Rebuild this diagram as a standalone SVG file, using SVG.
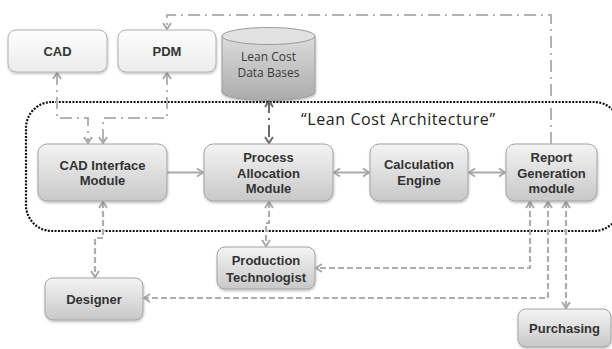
<svg xmlns="http://www.w3.org/2000/svg" width="612" height="349" viewBox="0 0 612 349">
  <defs>
    <linearGradient id="gMod" x1="0" y1="0" x2="0" y2="1">
      <stop offset="0" stop-color="#f4f4f4"/>
      <stop offset="1" stop-color="#c8c8c8"/>
    </linearGradient>
    <linearGradient id="gLight" x1="0" y1="0" x2="0" y2="1">
      <stop offset="0" stop-color="#fdfdfd"/>
      <stop offset="1" stop-color="#ececec"/>
    </linearGradient>
    <linearGradient id="gCyl" x1="0" y1="0" x2="0" y2="1">
      <stop offset="0" stop-color="#dcdcdc"/>
      <stop offset="1" stop-color="#ababab"/>
    </linearGradient>
    <filter id="shadow" x="-10%" y="-10%" width="130%" height="140%">
      <feDropShadow dx="0.5" dy="1.5" stdDeviation="1.2" flood-color="#000" flood-opacity="0.25"/>
    </filter>
    <marker id="arrL" viewBox="0 0 10 10" refX="9" refY="5" markerWidth="10" markerHeight="10" markerUnits="userSpaceOnUse" orient="auto-start-reverse">
      <path d="M3,1 L9,5 L3,9" fill="none" stroke="#a9a9a9" stroke-width="2"/>
    </marker>
    <marker id="arrD" viewBox="0 0 10 10" refX="9" refY="5" markerWidth="10" markerHeight="10" markerUnits="userSpaceOnUse" orient="auto-start-reverse">
      <path d="M3,1 L9,5 L3,9" fill="none" stroke="#6a6a6a" stroke-width="2"/>
    </marker>
  </defs>
  <style>
    .box { fill: url(#gMod); stroke: #a3a3a3; stroke-width: 1; filter: url(#shadow); }
    .lbox { fill: url(#gLight); stroke: #b0b0b0; stroke-width: 1; filter: url(#shadow); }
    .lbl { font-family: "Liberation Sans", Arial, sans-serif; font-weight: bold; font-size: 13px; fill: #333333; text-anchor: middle; }
    .soft { font-family: "Open Sans", "Noto Sans", sans-serif; font-size: 12px; fill: #3a3a3a; text-anchor: middle; }
    .solid { fill: none; stroke: #a9a9a9; stroke-width: 2; }
    .dash { fill: none; stroke: #aeaeae; stroke-width: 2.2; stroke-dasharray: 6 3; }
    .dashdot { fill: none; stroke: #b3b3b3; stroke-width: 2; stroke-dasharray: 12 5 2 5; }
    .dashdotD { fill: none; stroke: #6a6a6a; stroke-width: 2; stroke-dasharray: 12 5 2 5; }
  </style>

  <rect width="612" height="349" fill="#ffffff"/>

  <!-- system boundary -->
  <g id="boundary">
    <rect x="26" y="102" width="594" height="129" rx="26" fill="none" stroke="#111111" stroke-width="2.2" stroke-dasharray="2 1.4"/>
    <text x="398" y="125" font-family="'Open Sans', 'Noto Sans', sans-serif" font-size="16" fill="#222222" text-anchor="middle" textLength="194" lengthAdjust="spacing">“Lean Cost Architecture”</text>
  </g>

  <!-- connectors -->
  <g id="connectors">
    <path class="dashdot" d="M551,144 V15 H167 V29" marker-end="url(#arrL)"/>
    <path class="dashdot" d="M57,73 V118 H88 V143" marker-start="url(#arrL)" marker-end="url(#arrL)"/>
    <path class="dashdot" d="M167,73 V118 H103 V143" marker-start="url(#arrL)" marker-end="url(#arrL)"/>
    <path class="dashdotD" d="M269,101 V143" marker-start="url(#arrD)" marker-end="url(#arrD)"/>
    <path class="solid" d="M167,172.5 H203" marker-end="url(#arrL)"/>
    <path class="solid" d="M334,172.5 H369" marker-start="url(#arrL)" marker-end="url(#arrL)"/>
    <path class="solid" d="M469,172.5 H505" marker-start="url(#arrL)" marker-end="url(#arrL)"/>
    <path class="dash" d="M103,202 V238 H95 V277" marker-start="url(#arrL)" marker-end="url(#arrL)"/>
    <path class="dash" d="M269,202 V223 H266 V246" marker-start="url(#arrL)" marker-end="url(#arrL)"/>
    <path class="dash" d="M530,202 V268 H316" marker-start="url(#arrL)" marker-end="url(#arrL)"/>
    <path class="dash" d="M548,202 V298 H144" marker-start="url(#arrL)" marker-end="url(#arrL)"/>
    <path class="dash" d="M566,202 V308" marker-start="url(#arrL)" marker-end="url(#arrL)"/>
  </g>

  <g id="cad">
    <rect class="lbox" x="8" y="30" width="99" height="42" rx="8"/>
    <text class="lbl" x="57.5" y="56">CAD</text>
  </g>
  <g id="pdm">
    <rect class="lbox" x="118" y="30" width="98" height="42" rx="8"/>
    <text class="lbl" x="167" y="56">PDM</text>
  </g>
  <g id="lean-cost-db">
    <path d="M222,36 V92 A46.5,8.5 0 0 0 315,92 V36" fill="url(#gCyl)" stroke="#9a9a9a" stroke-width="1" filter="url(#shadow)"/>
    <ellipse cx="268.5" cy="36" rx="46.5" ry="8.5" fill="#e2e2e2" stroke="#9a9a9a" stroke-width="1"/>
    <text class="soft" x="268.5" y="61">Lean Cost</text>
    <text class="soft" x="268.5" y="77">Data Bases</text>
  </g>
  <g id="cad-interface-module">
    <rect class="box" x="38" y="144" width="129" height="57" rx="9"/>
    <text class="lbl" x="102.5" y="170">CAD Interface</text>
    <text class="lbl" x="102.5" y="185">Module</text>
  </g>
  <g id="process-allocation-module">
    <rect class="box" x="204" y="144" width="129" height="57" rx="9"/>
    <text class="lbl" x="268.5" y="162">Process</text>
    <text class="lbl" x="268.5" y="177.5">Allocation</text>
    <text class="lbl" x="268.5" y="193">Module</text>
  </g>
  <g id="calculation-engine">
    <rect class="box" x="370" y="144" width="98" height="57" rx="9"/>
    <text class="lbl" x="419" y="169">Calculation</text>
    <text class="lbl" x="419" y="184.5">Engine</text>
  </g>
  <g id="report-generation-module">
    <rect class="box" x="506" y="144" width="91" height="57" rx="9"/>
    <text class="lbl" x="551.5" y="162">Report</text>
    <text class="lbl" x="551.5" y="177.5">Generation</text>
    <text class="lbl" x="551.5" y="193">module</text>
  </g>
  <g id="production-technologist">
    <rect class="box" x="217" y="247" width="98" height="42" rx="8"/>
    <text class="lbl" x="266" y="265">Production</text>
    <text class="lbl" x="266" y="281.5">Technologist</text>
  </g>
  <g id="designer">
    <rect class="box" x="45" y="278" width="98" height="42" rx="8"/>
    <text class="lbl" x="94" y="303.5">Designer</text>
  </g>
  <g id="purchasing">
    <rect class="box" x="518" y="309" width="93" height="38" rx="8"/>
    <text class="lbl" x="564.5" y="333">Purchasing</text>
  </g>
</svg>
